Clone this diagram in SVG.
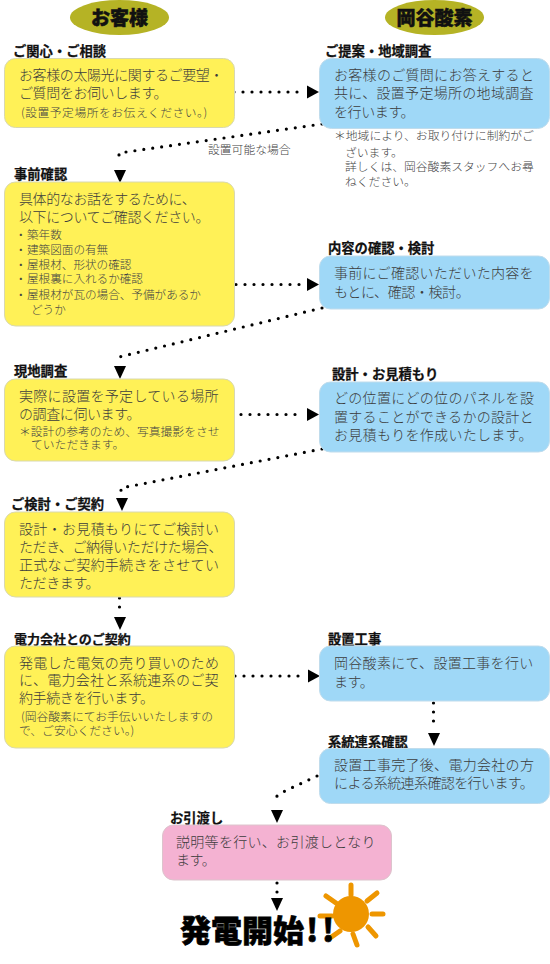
<svg xmlns="http://www.w3.org/2000/svg" width="550" height="964" viewBox="0 0 550 964">
<style>
text{font-family:"Noto Sans CJK JP","Noto Sans",sans-serif;}
.y{fill:#fff157;stroke:#d8d8b0;stroke-width:1}
.b{fill:#9fd8f7;stroke:#c0dcec;stroke-width:1}
.p{fill:#f4b2d2;stroke:#dcc4cc;stroke-width:1}
.h{fill:#b5b325}
.hd{font-size:19px;font-weight:900;fill:#111;stroke:#111;stroke-width:.5;text-anchor:middle}
.t{font-size:13.300px;font-weight:700;fill:#111;stroke:#111;stroke-width:.25}
.m{font-size:14px;font-weight:300;fill:#3c3c3c;letter-spacing:.3px}
.n{letter-spacing:-.4px}
.s{font-size:11.800px;font-weight:300;fill:#444;letter-spacing:0}
.d{fill:none;stroke:#000;stroke-width:3.200;stroke-linecap:round;stroke-dasharray:0 9}
.a{fill:#000}
</style>
<g id="head-customer"><ellipse class="h" cx="119.500" cy="17.500" rx="49.500" ry="17.500"/><text class="hd" x="119.500" y="25">お客様</text></g>
<g id="head-okaya"><ellipse class="h" cx="434.500" cy="17.500" rx="49.500" ry="17.500"/><text class="hd" x="434.500" y="25">岡谷酸素</text></g>
<g id="connectors">
<path class="d" d="M234 92H304"/><path class="a" d="M307 85.500L319 92L307 98.500Z"/>
<path class="d" d="M322 124L119 153V163"/><path class="a" d="M114 170H126L120 183Z"/>
<path class="d" d="M236 284.500H304"/><path class="a" d="M307 278L319 284.500L307 291Z"/>
<path class="d" d="M322 308L119 357V361"/><path class="a" d="M114 366H126L120 379Z"/>
<path class="d" d="M241 414.500H303"/><path class="a" d="M307 408L319 414.500L307 421Z"/>
<path class="d" d="M322 449L121 488V492"/><path class="a" d="M116 498H128L122 511Z"/>
<path class="d" d="M119.500 598V610"/><path class="a" d="M114 617H126L120 630Z"/>
<path class="d" d="M235 676H300"/><path class="a" d="M308 669.500L320 676L308 682.500Z"/>
<path class="d" d="M433.500 703V724"/><path class="a" d="M428 733H440L434 746Z"/>
<path class="d" d="M317 776L285 791L277 796L276 803"/><path class="a" d="M271 810H283L277 823Z"/>
<path class="d" d="M277 883V894"/><path class="a" d="M271 898H283L277 911Z"/>
</g>
<g id="n1"><text class="t" x="13" y="56">ご関心・ご相談</text><rect class="y" x="4.500" y="58.500" width="230" height="69" rx="11"/><text class="m n"><tspan x="19" y="80">お客様の太陽光に関するご要望・</tspan><tspan x="19" y="98">ご質問をお伺いします。</tspan></text><text class="s" x="21" y="117" style="letter-spacing:.5px">(設置予定場所をお伝えください。)</text></g>
<g id="n2"><text class="t" x="325" y="56">ご提案・地域調査</text><rect class="b" x="319.500" y="58.500" width="230" height="70" rx="12"/><text class="m"><tspan x="334" y="80">お客様のご質問にお答えすると</tspan><tspan x="334" y="98">共に、設置予定場所の地域調査</tspan></text><text class="m n" x="334" y="117">を行います。</text><text class="s"><tspan x="334" y="140">＊地域により、お取り付けに制約がご</tspan><tspan x="345" y="157">ざいます。</tspan><tspan x="345" y="171">詳しくは、岡谷酸素スタッフへお尋</tspan><tspan x="345" y="186">ねください。</tspan></text></g>
<text class="s" x="208" y="154">設置可能な場合</text>
<g id="n3"><text class="t" x="14" y="179">事前確認</text><rect class="y" x="4.500" y="182" width="230" height="144" rx="11"/><text class="m n"><tspan x="19" y="204">具体的なお話をするために、</tspan><tspan x="19" y="222">以下についてご確認ください。</tspan></text><text class="s" style="font-size:11.600px"><tspan x="15" y="239">・</tspan><tspan x="27" y="239">築年数</tspan><tspan x="15" y="254">・</tspan><tspan x="27" y="254">建築図面の有無</tspan><tspan x="15" y="269">・</tspan><tspan x="27" y="269">屋根材、形状の確認</tspan><tspan x="15" y="283">・</tspan><tspan x="27" y="283">屋根裏に入れるか確認</tspan><tspan x="15" y="299">・</tspan><tspan x="27" y="299">屋根材が瓦の場合、予備があるか</tspan><tspan x="31" y="314">どうか</tspan></text></g>
<g id="n4"><text class="t" x="328" y="253">内容の確認・検討</text><rect class="b" x="319.500" y="256" width="230" height="53" rx="11"/><text class="m"><tspan x="334" y="278">事前にご確認いただいた内容を</tspan></text><text class="m n" x="334" y="297">もとに、確認・検討。</text></g>
<g id="n5"><text class="t" x="14" y="376">現地調査</text><rect class="y" x="4.500" y="379" width="230" height="82" rx="11"/><text class="m" x="19" y="401">実際に設置を予定している場所</text><text class="m n" x="19" y="419">の調査に伺います。</text><text class="s"><tspan x="19" y="436">＊設計の参考のため、写真撮影をさせ</tspan><tspan x="31" y="449">ていただきます。</tspan></text></g>
<g id="n6"><text class="t" x="332" y="379">設計・お見積もり</text><rect class="b" x="319.500" y="382" width="230" height="70" rx="11"/><text class="m"><tspan x="334" y="403">どの位置にどの位のパネルを設</tspan><tspan x="334" y="422">置することができるかの設計と</tspan><tspan x="334" y="440">お見積もりを作成いたします。</tspan></text></g>
<g id="n7"><text class="t" x="11" y="509">ご検討・ご契約</text><rect class="y" x="4.500" y="512" width="230" height="85" rx="11"/><text class="m" x="19" y="534">設計・お見積もりにてご検討い</text><text class="m n" x="19" y="552">ただき、ご納得いただけた場合、</text><text class="m"><tspan x="19" y="570">正式なご契約手続きをさせてい</tspan></text><text class="m n" x="19" y="588">ただきます。</text></g>
<g id="n8"><text class="t" x="14" y="643.500" style="font-size:13px">電力会社とのご契約</text><rect class="y" x="4.500" y="646" width="230" height="102" rx="11"/><text class="m"><tspan x="19" y="668">発電した電気の売り買いのため</tspan><tspan x="19" y="685">に、電力会社と系統連系のご契</tspan></text><text class="m n" x="19" y="703">約手続きを行います。</text><text class="s"><tspan x="21" y="720.500">(岡谷酸素にてお手伝いいたしますの</tspan><tspan x="19" y="734.500">で、ご安心ください。)</tspan></text></g>
<g id="n9"><text class="t" x="328" y="644">設置工事</text><rect class="b" x="319.500" y="646" width="230" height="55" rx="11"/><text class="m" x="334" y="668">岡谷酸素にて、設置工事を行い</text><text class="m n" x="334" y="687">ます。</text></g>
<g id="n10"><text class="t" x="328" y="747">系統連系確認</text><rect class="b" x="319.500" y="748.500" width="230" height="55" rx="11"/><text class="m" x="334" y="770">設置工事完了後、電力会社の方</text><text class="m" x="334" y="788" style="letter-spacing:-.6px">による系統連系確認を行います。</text></g>
<g id="n11"><text class="t" x="170" y="822.500">お引渡し</text><rect class="p" x="162.500" y="825" width="229" height="55" rx="11"/><text class="m" x="176" y="847">説明等を行い、お引渡しとなり</text><text class="m n" x="176" y="865">ます。</text></g>
<g id="n12"><g fill="#ee9600" stroke="#ee9600" stroke-width="5" stroke-linecap="round"><circle cx="351" cy="914" r="18" stroke="none"/><path d="M351 885V895M326 896L336 903M377 893L367 901M320 916H332M372 914H383M340 931L330 938M368 927L376 936M353 934L357 945"/></g><text y="942" font-size="31" font-weight="900" fill="#000" stroke="#000" stroke-width=".6"><tspan x="180">発電開始</tspan><tspan x="306">!</tspan><tspan x="322">!</tspan></text></g>
</svg>
